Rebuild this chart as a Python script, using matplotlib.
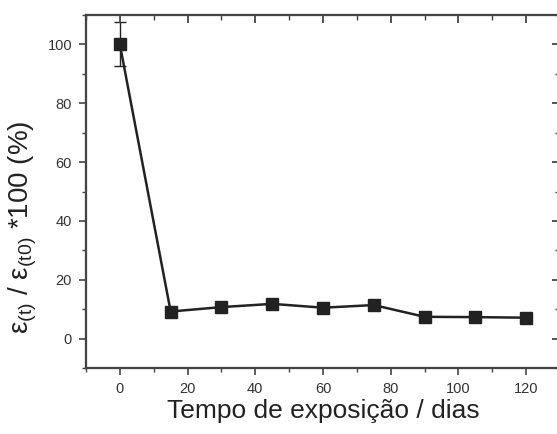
import matplotlib
matplotlib.use('Agg')
import matplotlib.pyplot as plt
from matplotlib.ticker import MultipleLocator

# data
dias = [0, 15, 30, 45, 60, 75, 90, 105, 120]
eps_rel = [100, 9.2, 10.7, 11.8, 10.5, 11.4, 7.4, 7.3, 7.1]
eps_err = [7.5, 0.5, 0.5, 0.5, 0.5, 0.5, 0.5, 0.5, 0.5]
xticks = [0, 20, 40, 60, 80, 100, 120]

plt.rcParams['font.family'] = ['Liberation Sans', 'DejaVu Sans']
plt.rcParams['mathtext.fontset'] = 'custom'
plt.rcParams['mathtext.rm'] = 'Liberation Sans'

ink = '#222222'
axis_col = '#444444'

fig = plt.figure(figsize=(5.57, 4.34), dpi=100)
ax = fig.add_axes([86 / 557, 66 / 434, 474 / 557, 353 / 434])

ax.errorbar(dias, eps_rel, yerr=eps_err, color=ink, marker='s', markersize=8.5,
            linewidth=1.8, elinewidth=1.0, capsize=4, capthick=1.0, zorder=3)

ax.set_xlim(-10, 130)
ax.set_ylim(-10, 110)
ax.set_xticks(xticks)
ax.xaxis.set_minor_locator(MultipleLocator(10))
ax.yaxis.set_major_locator(MultipleLocator(20))
ax.yaxis.set_minor_locator(MultipleLocator(10))

for s in ax.spines.values():
    s.set_color(axis_col)
    s.set_linewidth(1.5)

# outward ticks on bottom/left
ax.tick_params(axis='both', which='major', direction='out', length=5, width=1.2,
               colors=axis_col, labelcolor='#333333', labelsize=10.5, pad=5)
ax.tick_params(axis='both', which='minor', direction='out', length=3, width=1.0,
               colors=axis_col)

# mirrored inward ticks on top/right, no labels
axt = ax.twiny()
axt.set_xlim(ax.get_xlim())
axt.set_xticks(xticks)
axt.xaxis.set_minor_locator(MultipleLocator(10))
axr = ax.twinx()
axr.set_ylim(ax.get_ylim())
axr.yaxis.set_major_locator(MultipleLocator(20))
axr.yaxis.set_minor_locator(MultipleLocator(10))
for tw in (axt, axr):
    tw.tick_params(which='major', direction='in', length=6, width=1.3, colors=axis_col)
    tw.tick_params(which='minor', direction='in', length=3.5, width=1.0, colors=axis_col)
    for s in tw.spines.values():
        s.set_color(axis_col)
        s.set_linewidth(1.5)
axt.set_xticklabels([])
axr.set_yticklabels([])

ax.set_xlabel('Tempo de exposição / dias', fontsize=19, color='#222222', labelpad=2)
ax.set_ylabel(r'$\mathregular{ε_{(t)}}$ / $\mathregular{ε_{(t0)}}$ *100 (%)',
              fontsize=20, color='#222222')
ax.yaxis.set_label_coords(-0.10, 0.40)

fig.savefig('out.png', dpi=100)
